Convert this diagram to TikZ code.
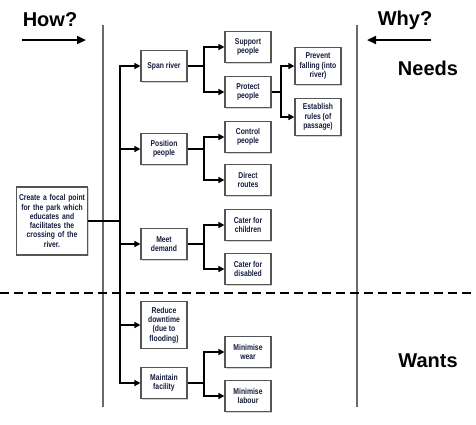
\documentclass[tikz,border=0pt]{standalone}
\usepackage{fontspec}
\setmainfont{Liberation Sans}
\newfontfamily\boxfont{Liberation Sans}[FakeStretch=0.8]
\usetikzlibrary{arrows.meta, positioning, calc, shadows}
\definecolor{boxtext}{RGB}{22, 28, 62}
\definecolor{boxedge}{RGB}{85, 85, 85}
\definecolor{sideline}{RGB}{105, 105, 105}

\tikzset{
    goalbox/.style={draw=boxedge, line width=1.2pt, fill=white, text=boxtext,
        font=\boxfont\bfseries\fontsize{8.5}{9.3}\selectfont, align=center,
        minimum width=46pt, minimum height=31pt, inner xsep=2pt, inner ysep=5.5pt,
        drop shadow={shadow xshift=1pt, shadow yshift=-1pt, opacity=0.35}},
    flow/.style={line width=1.5pt, black},
    flowarrow/.style={flow, -{Triangle[length=6pt, width=6pt]}},
    bigword/.style={font=\bfseries\fontsize{20}{24}\selectfont},
    sidearrow/.style={line width=2.2pt, -{Triangle[length=9pt, width=8pt]}}
}

\begin{document}
\begin{tikzpicture}[x=1pt, y=-1pt]
    \useasboundingbox (0,0) rectangle (476,424);

    % headings and side labels
    \node[bigword] (how) at (50,20) {How?};
    \node[bigword] (why) at (405,20) {Why?};
    \node[bigword] (needs) at (428,68) {Needs};
    \node[bigword] (wants) at (428,361) {Wants};
    \coordinate (howfrom) at (22,40);
    \coordinate (howto) at (86,40);
    \coordinate (whyfrom) at (431,40);
    \coordinate (whyto) at (367,40);
    \draw[sidearrow] (howfrom) -- (howto);
    \draw[sidearrow] (whyfrom) -- (whyto);

    % gray dividers and the dashed split
    \coordinate (leftTop) at (103,25);
    \coordinate (leftBot) at (103,407);
    \coordinate (rightTop) at (357,25);
    \coordinate (rightBot) at (357,407);
    \draw[sideline, line width=2.5pt] (leftTop) -- (leftBot);
    \draw[sideline, line width=2.5pt] (rightTop) -- (rightBot);
    \coordinate (splitL) at (0,293);
    \coordinate (splitR) at (476,293);
    \draw[line width=2.5pt, dash pattern=on 9pt off 5pt] (splitL) -- (splitR);

    % boxes
    \node[goalbox, minimum width=71pt, text width=67pt, minimum height=68pt] (focal) at (52,221)
        {Create a focal point\\for the park which\\educates and\\facilitates the\\crossing of the\\river.};
    \node[goalbox] (span) at (164,66) {Span river};
    \node[goalbox] (position) at (164,149) {Position\\people};
    \node[goalbox] (meet) at (164,244) {Meet\\demand};
    \node[goalbox] (reduce) at (164,325) {Reduce\\downtime\\(due to\\flooding)};
    \node[goalbox] (maintain) at (164,383) {Maintain\\facility};
    \node[goalbox] (support) at (248,47) {Support\\people};
    \node[goalbox] (protect) at (248,92) {Protect\\people};
    \node[goalbox] (control) at (248,137) {Control\\people};
    \node[goalbox] (direct) at (248,180) {Direct\\routes};
    \node[goalbox] (children) at (248,225) {Cater for\\children};
    \node[goalbox] (disabled) at (248,269) {Cater for\\disabled};
    \node[goalbox] (wear) at (248,352) {Minimise\\wear};
    \node[goalbox] (labour) at (248,396) {Minimise\\labour};
    \node[goalbox] (prevent) at (318,66) {Prevent\\falling (into\\river)};
    \node[goalbox] (rules) at (318,117) {Establish\\rules (of\\passage)};

    % tree connectors
    \coordinate (trunk) at (120,0);
    \coordinate (fork) at (204,0);
    \coordinate (forkb) at (281,0);
    \draw[flow] (focal.east) -- (focal.east -| trunk);
    \foreach \kid in {span, position, meet, reduce, maintain}
        \draw[flowarrow] (focal.east -| trunk) |- (\kid.west);
    \foreach \mum/\kid in {span/support, span/protect, position/control, position/direct,
                            meet/children, meet/disabled, maintain/wear, maintain/labour}
        \draw[flowarrow] (\mum.east) -- (\mum.east -| fork) |- (\kid.west);
    \foreach \kid in {prevent, rules}
        \draw[flowarrow] (protect.east) -- (protect.east -| forkb) |- (\kid.west);
\end{tikzpicture}
\end{document}
